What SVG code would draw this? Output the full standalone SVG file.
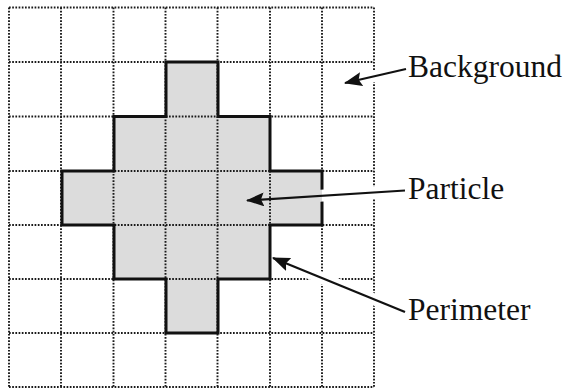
<svg xmlns="http://www.w3.org/2000/svg" width="567" height="391" viewBox="0 0 567 391">
  <style>
    .grid line { stroke: #1a1a1a; stroke-width: 1.9; stroke-dasharray: 1.7 1.5; }
    .outline { fill: none; stroke: #111; stroke-width: 3; stroke-linejoin: miter; }
    .fill { fill: #d8d8d8; fill-opacity: 0.9; stroke: none; }
    .shaft { stroke: #111; stroke-width: 2.2; fill: none; }
    .label { font-family: "Liberation Serif", "Times New Roman", serif; font-size: 31.5px; fill: #111; }
  </style>
  <defs>
    <marker id="head" viewBox="0 0 18 14" refX="17" refY="7" markerWidth="18" markerHeight="14" markerUnits="userSpaceOnUse" orient="auto">
      <path d="M0,0 L18,7 L0,14 L3,7 Z" fill="#111"/>
    </marker>
    <!-- knock-out band along the arrow shafts so lines they cross break cleanly -->
    <mask id="knock" maskUnits="userSpaceOnUse" x="0" y="0" width="567" height="391">
      <rect x="0" y="0" width="567" height="391" fill="#fff"/>
      <g stroke="#000" stroke-width="12" fill="none">
        <line x1="406" y1="69" x2="360" y2="79.5"/>
        <line x1="405" y1="190.5" x2="300" y2="197"/>
        <line x1="405" y1="312" x2="292" y2="266"/>
      </g>
    </mask>
  </defs>

  <!-- particle body -->
  <g id="particle">
    <path class="fill" d="M166,62 H218 V116.5 H270 V171 H322 V225 H270 V279 H218 V333 H166 V279 H114 V225 H62 V171 H114 V116.5 H166 Z"/>
  </g>

  <!-- dotted lattice -->
  <g id="lattice" class="grid" mask="url(#knock)">
    <line x1="9" y1="7.5" x2="9" y2="387"/>
    <line x1="61" y1="7.5" x2="61" y2="387"/>
    <line x1="113.5" y1="7.5" x2="113.5" y2="387"/>
    <line x1="165.5" y1="7.5" x2="165.5" y2="387"/>
    <line x1="217.5" y1="7.5" x2="217.5" y2="387"/>
    <line x1="270" y1="7.5" x2="270" y2="387"/>
    <line x1="322" y1="7.5" x2="322" y2="387"/>
    <line x1="374" y1="7.5" x2="374" y2="387"/>
    <line x1="9" y1="7.5" x2="374" y2="7.5"/>
    <line x1="9" y1="62" x2="374" y2="62"/>
    <line x1="9" y1="116.5" x2="374" y2="116.5"/>
    <line x1="9" y1="171" x2="374" y2="171"/>
    <line x1="9" y1="225" x2="374" y2="225"/>
    <line x1="9" y1="279" x2="374" y2="279"/>
    <line x1="9" y1="333" x2="374" y2="333"/>
    <line x1="9" y1="387" x2="374" y2="387"/>
  </g>

  <!-- particle perimeter -->
  <g id="perimeter" mask="url(#knock)">
    <path class="outline" d="M166,62 H218 V116.5 H270 V171 H322 V225 H270 V279 H218 V333 H166 V279 H114 V225 H62 V171 H114 V116.5 H166 Z"/>
  </g>

  <!-- pointers from the labels -->
  <g id="connectors">
    <line class="shaft" x1="406" y1="69" x2="345" y2="83" marker-end="url(#head)"/>
    <line class="shaft" x1="405" y1="190.5" x2="247" y2="200.5" marker-end="url(#head)"/>
    <line class="shaft" x1="405" y1="312" x2="273" y2="258" marker-end="url(#head)"/>
  </g>

  <g id="label-background"><text class="label" x="408" y="77">Background</text></g>
  <g id="label-particle"><text class="label" x="408" y="199">Particle</text></g>
  <g id="label-perimeter"><text class="label" x="408" y="320">Perimeter</text></g>
</svg>
